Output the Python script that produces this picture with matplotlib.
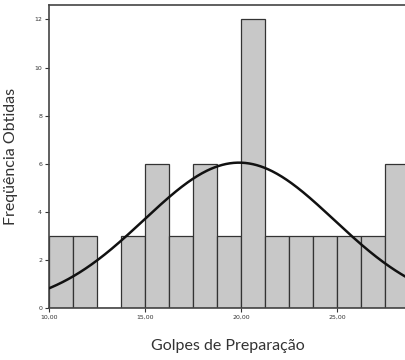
import matplotlib
matplotlib.use("Agg")
import matplotlib.pyplot as plt
import numpy as np

# histogram bins (Golpes de Preparação) and counts
bin_edges = [10.0, 11.25, 12.5, 13.75, 15.0, 16.25, 17.5, 18.75, 20.0,
             21.25, 22.5, 23.75, 25.0, 26.25, 27.5, 28.75]
counts = [3, 3, 0, 3, 6, 3, 6, 3, 12, 3, 3, 3, 3, 3, 6]

# fitted normal curve parameters
curve_mean = 19.9
curve_sd = 4.95

x_ticks = [10, 15, 20, 25]
x_tick_labels = ["10,00", "15,00", "20,00", "25,00"]
y_ticks = [0, 2, 4, 6, 8, 10, 12]

fig = plt.figure(figsize=(4.06, 3.6), dpi=100)
ax = fig.add_axes([49 / 406, 52 / 360, 1 - 49 / 406, 303 / 360])

edges = np.array(bin_edges)
widths = np.diff(edges)
ax.bar(edges[:-1], counts, width=widths, align="edge", color="#c8c8c8",
       edgecolor="#333333", linewidth=0.9, zorder=2)

n = sum(counts)
bw = widths[0]
xs = np.linspace(9.5, 29.5, 400)
ys = n * bw / (curve_sd * np.sqrt(2 * np.pi)) * np.exp(-0.5 * ((xs - curve_mean) / curve_sd) ** 2)
ax.plot(xs, ys, color="#111111", linewidth=1.8, zorder=3)

ax.set_xlim(10, 28.6)
ax.set_ylim(0, 12.6)
ax.set_xticks(x_ticks)
ax.set_xticklabels(x_tick_labels)
ax.set_yticks(y_ticks)
ax.tick_params(labelsize=4.5, length=3, width=0.8, colors="#333333", pad=2)
for s in ["left", "top", "bottom"]:
    ax.spines[s].set_color("#444444")
    ax.spines[s].set_linewidth(1.2)
ax.spines["right"].set_visible(False)

ax.set_xlabel("Golpes de Preparação", family="Lato", fontsize=11.5,
              color="#333333", labelpad=14)
ax.set_ylabel("Freqüência Obtidas", family="Lato", fontsize=11.5,
              color="#333333", labelpad=12)

fig.savefig("out.png", dpi=100)
